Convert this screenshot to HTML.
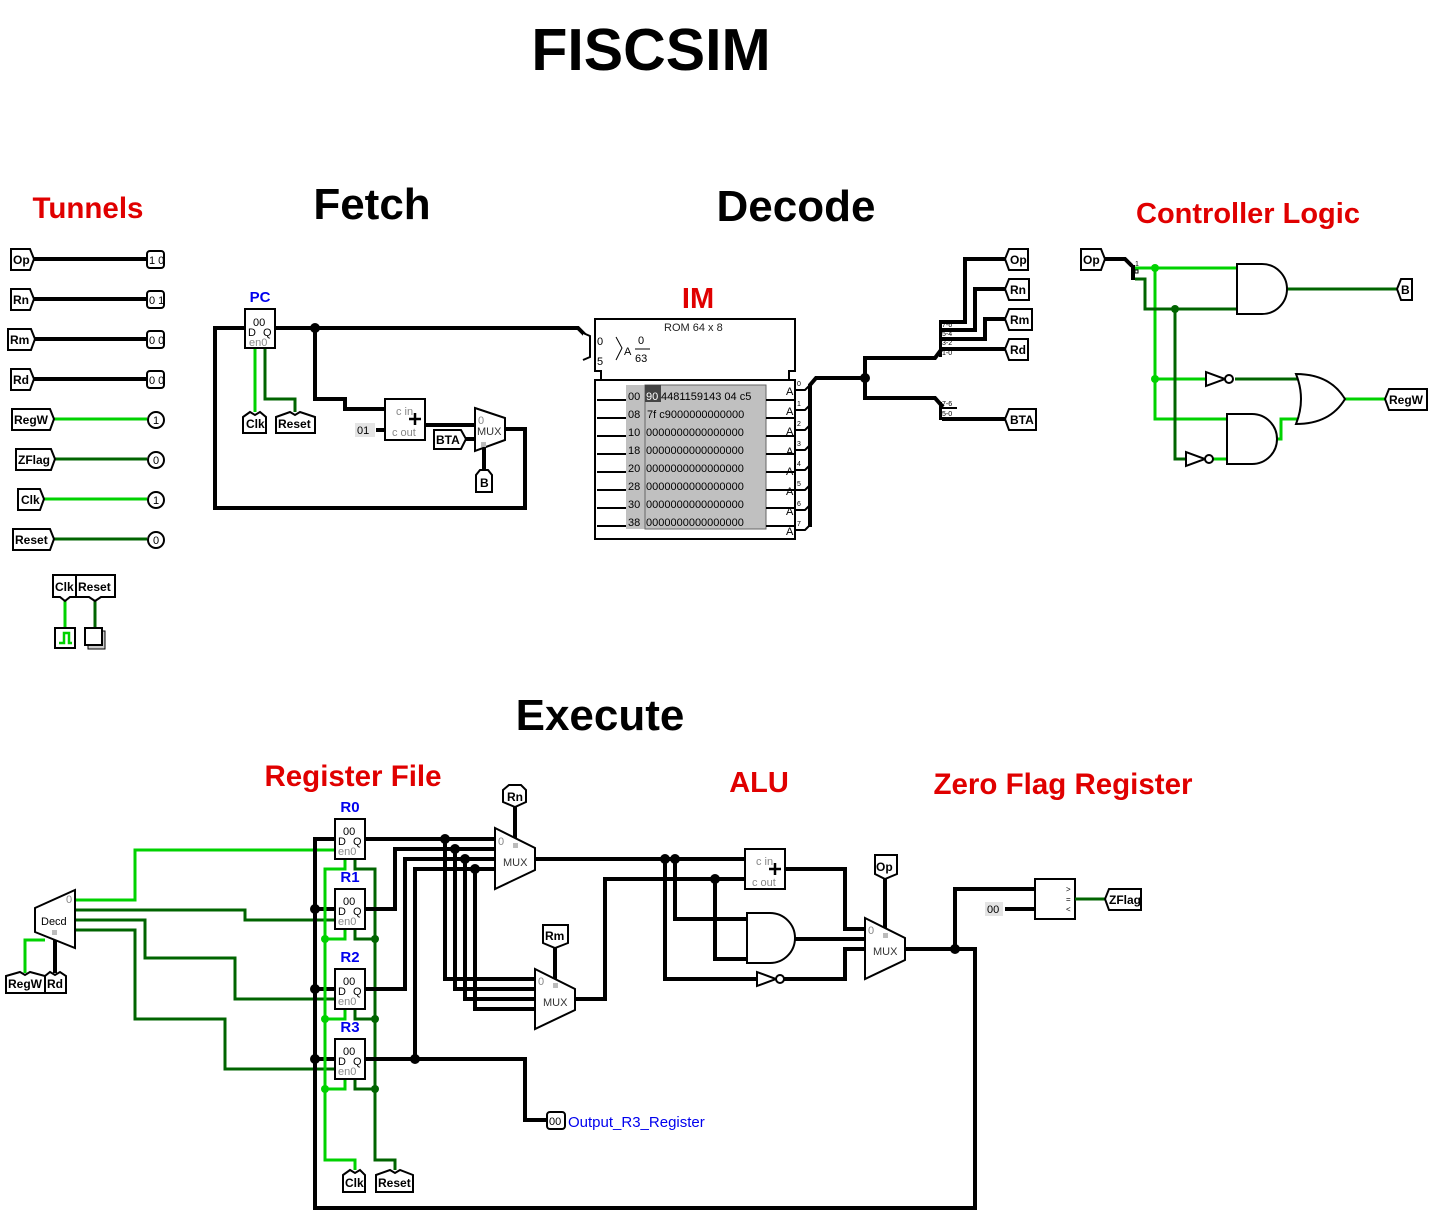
<!DOCTYPE html>
<html><head><meta charset="utf-8"><style>
html,body{margin:0;padding:0;background:#fff;width:1432px;height:1215px;overflow:hidden}
svg{display:block}
.t{font-family:"Liberation Sans",sans-serif;font-weight:bold}
.lb{font-family:"Liberation Sans",sans-serif;font-weight:bold;font-size:12px}
.sm{font-family:"Liberation Sans",sans-serif;font-size:11px}
.gr{font-family:"Liberation Sans",sans-serif;font-size:11px;fill:#888}
.bw{fill:none;stroke:#000;stroke-width:4;stroke-linejoin:miter}
.lg{fill:none;stroke:#00d200;stroke-width:3}
.dg{fill:none;stroke:#006400;stroke-width:3}
.box{fill:#fff;stroke:#000;stroke-width:2}
.g{fill:none;stroke:#000;stroke-width:2}
</style></head><body>
<svg width="1432" height="1215" viewBox="0 0 1432 1215" xmlns="http://www.w3.org/2000/svg">
<!-- Titles -->
<text class="t" x="651" y="70" font-size="59" text-anchor="middle">FISCSIM</text>
<text class="t" x="88" y="218" font-size="29.5" fill="#e00000" text-anchor="middle">Tunnels</text>
<text class="t" x="372" y="219" font-size="44" text-anchor="middle">Fetch</text>
<text class="t" x="796" y="221" font-size="44" text-anchor="middle">Decode</text>
<text class="t" x="1248" y="223" font-size="29" fill="#e00000" text-anchor="middle">Controller Logic</text>
<text class="t" x="698" y="308" font-size="29" fill="#e00000" text-anchor="middle">IM</text>
<text class="t" x="600" y="730" font-size="44" text-anchor="middle">Execute</text>
<text class="t" x="353" y="786" font-size="29.5" fill="#e00000" text-anchor="middle">Register File</text>
<text class="t" x="759" y="792" font-size="29" fill="#e00000" text-anchor="middle">ALU</text>
<text class="t" x="1063" y="794" font-size="29.5" fill="#e00000" text-anchor="middle">Zero Flag Register</text>

<!-- ===== Tunnels section ===== -->
<path class="bw" d="M33 259H147M33 299H147M33 339H147M33 379H147"/>
<path class="lg" d="M53 419H147M43 499H147"/>
<path class="dg" d="M53 459H147M53 539H147"/>
<polygon class="box" points="11,249 30,249 34,259 30,270 11,270"/><text class="lb" x="13" y="264">Op</text>
<polygon class="box" points="11,289 30,289 34,299 30,310 11,310"/><text class="lb" x="13" y="304">Rn</text>
<polygon class="box" points="8,329 31,329 35,339 31,350 8,350"/><text class="lb" x="10" y="344">Rm</text>
<polygon class="box" points="11,369 30,369 34,379 30,390 11,390"/><text class="lb" x="13" y="384">Rd</text>
<polygon class="box" points="12,409 50,409 54,419 50,430 12,430"/><text class="lb" x="14" y="424">RegW</text>
<polygon class="box" points="16,449 51,449 55,459 51,470 16,470"/><text class="lb" x="18" y="464">ZFlag</text>
<polygon class="box" points="18,489 40,489 44,499 40,510 18,510"/><text class="lb" x="21" y="504">Clk</text>
<polygon class="box" points="13,529 50,529 54,539 50,550 13,550"/><text class="lb" x="15" y="544">Reset</text>
<!-- probes -->
<rect class="box" x="147" y="251" width="17" height="17" rx="3"/><text class="sm" x="149" y="264">1 0</text>
<rect class="box" x="147" y="291" width="17" height="17" rx="3"/><text class="sm" x="149" y="304">0 1</text>
<rect class="box" x="147" y="331" width="17" height="17" rx="3"/><text class="sm" x="149" y="344">0 0</text>
<rect class="box" x="147" y="371" width="17" height="17" rx="3"/><text class="sm" x="149" y="384">0 0</text>
<circle class="box" cx="156" cy="420" r="8"/><text class="sm" x="153" y="424">1</text>
<circle class="box" cx="156" cy="460" r="8"/><text class="sm" x="153" y="464">0</text>
<circle class="box" cx="156" cy="500" r="8"/><text class="sm" x="153" y="504">1</text>
<circle class="box" cx="156" cy="540" r="8"/><text class="sm" x="153" y="544">0</text>
<!-- clock & button -->
<path class="lg" d="M65 597V630"/><path class="dg" d="M95 597V630"/>
<polygon class="box" points="53,575 76,575 76,597 70,597 65,601 60,597 53,597"/><text class="lb" x="55" y="591">Clk</text>
<polygon class="box" points="76,575 115,575 115,597 101,597 95,601 89,597 76,597"/><text class="lb" x="78" y="591">Reset</text>
<rect class="box" x="55" y="628" width="20" height="20"/><path d="M59 643H64V633H69V643H72" fill="none" stroke="#00d200" stroke-width="2.5"/>
<rect x="88" y="631" width="17" height="18" fill="#ccc" stroke="#000" stroke-width="1"/><rect class="box" x="85" y="628" width="17" height="17"/>

<!-- ===== Fetch ===== -->
<path class="bw" d="M275 328H578L585 335M245 328H215V508H525V429H505M315 328V399H345V409H385M425 425H475M466 439H475M376 430H385"/>
<path class="bw" d="M484 447V470"/>
<circle cx="315" cy="328" r="5"/>
<path class="lg" d="M255 348V412"/><path class="dg" d="M265 348V399H295V412"/>
<rect class="box" x="245" y="309" width="30" height="39"/>
<text class="sm" x="253" y="326">00</text><text class="sm" x="248" y="336">D</text><text class="sm" x="263" y="336">Q</text><text class="gr" x="249" y="346">en0</text>
<text class="t" x="260" y="302" font-size="15" fill="#0000ee" text-anchor="middle">PC</text>
<polygon class="box" points="243,417 250,412 255,415 260,412 266,417 266,433 243,433"/><text class="lb" x="246" y="428">Clk</text>
<polygon class="box" points="276,417 290,412 295,415 300,412 315,417 315,433 276,433"/><text class="lb" x="278" y="428">Reset</text>
<rect x="355" y="423" width="20" height="14" fill="#e4e4e4"/><text class="sm" x="357" y="434">01</text>
<rect class="box" x="385" y="399" width="40" height="41"/>
<text class="gr" x="396" y="415">c in</text><text class="gr" x="392" y="436">c out</text>
<path d="M409 419H421M415 413V425" stroke="#000" stroke-width="2.5"/>
<polygon class="box" points="475,408 505,418 505,440 475,451"/>
<text class="gr" x="478" y="424">0</text><text class="sm" x="477" y="435" fill="#333">MUX</text>
<rect x="481" y="442" width="5" height="5" fill="#bbb"/>
<polygon class="box" points="434,430 461,430 466,439 461,449 434,449"/><text class="lb" x="436" y="444">BTA</text>
<polygon class="box" points="476,475 480,470 488,470 492,475 492,492 476,492"/><text class="lb" x="480" y="487">B</text>

<!-- ===== ROM ===== -->
<path class="box" d="M595 319H795V371H789V380H795V539H595V380H601V371H595Z"/>
<path d="M583 333L590 336V357L583 360" fill="#fff" stroke="#000" stroke-width="2"/>
<path d="M590 340V352" stroke="#000" stroke-width="2" stroke-dasharray="2,2"/>
<text class="sm" x="664" y="331" fill="#222">ROM 64 x 8</text>
<text class="sm" x="597" y="345">0</text><text class="sm" x="597" y="365">5</text>
<path d="M616 337L622 348L616 360" fill="none" stroke="#000" stroke-width="1"/>
<text class="sm" x="624" y="355">A</text><text class="sm" x="638" y="344">0</text><path d="M635 349H650" stroke="#000"/><text class="sm" x="635" y="362">63</text>
<path d="M595 380H795" stroke="#000" stroke-width="2"/>
<rect x="626" y="385" width="140" height="144" fill="#c0c0c0"/>
<rect x="645" y="385" width="121" height="144" fill="none" stroke="#666" stroke-width="1"/>
<rect x="645" y="385" width="16" height="17" fill="#444"/>
<path d="M597 400H626M597 418H626M597 436H626M597 454H626M597 472H626M597 490H626M597 508H626M597 526H626" stroke="#000" stroke-width="2"/>
<path d="M766 400H795M766 418H795M766 436H795M766 454H795M766 472H795M766 490H795M766 508H795M766 526H795" stroke="#000" stroke-width="2"/>
<g class="sm" font-size="11">
<text x="628" y="400">00</text><text x="646" y="400" fill="#fff">90</text><text x="661" y="400">4481159143 04 c5</text>
<text x="628" y="418">08</text><text x="647" y="418">7f c9000000000000</text>
<text x="628" y="436">10</text><text x="646" y="436">0000000000000000</text>
<text x="628" y="454">18</text><text x="646" y="454">0000000000000000</text>
<text x="628" y="472">20</text><text x="646" y="472">0000000000000000</text>
<text x="628" y="490">28</text><text x="646" y="490">0000000000000000</text>
<text x="628" y="508">30</text><text x="646" y="508">0000000000000000</text>
<text x="628" y="526">38</text><text x="646" y="526">0000000000000000</text>
</g>
<g class="sm" font-size="10"><text x="786" y="395">A</text><text x="786" y="415">A</text><text x="786" y="435">A</text><text x="786" y="455">A</text><text x="786" y="475">A</text><text x="786" y="495">A</text><text x="786" y="515">A</text><text x="786" y="535">A</text></g>
<g font-family="Liberation Sans" font-size="7"><text x="797" y="386">0</text><text x="797" y="406">1</text><text x="797" y="426">2</text><text x="797" y="446">3</text><text x="797" y="466">4</text><text x="797" y="486">5</text><text x="797" y="506">6</text><text x="797" y="526">7</text></g>
<path d="M795 390H805L810 385M795 410H805L810 405M795 430H805L810 425M795 450H805L810 445M795 470H805L810 465M795 490H805L810 485M795 510H805L810 505M795 530H805L810 525" fill="none" stroke="#000" stroke-width="2"/>
<path class="bw" d="M810 527V385L816 378H865V358H935L941 350M865 378V398H935L943 407"/>
<circle cx="865" cy="378" r="5"/>
<rect x="939" y="320" width="3" height="37"/>
<path class="bw" d="M941 322H965V259H1005M941 330H975V289H1005M941 339H985V319H1005M941 349H1005" stroke-width="3.5"/>
<g font-family="Liberation Sans" font-size="7"><text x="942" y="327">7-6</text><text x="942" y="336">5-4</text><text x="942" y="345">3-2</text><text x="942" y="355">1-0</text><text x="942" y="406">7-6</text><text x="942" y="416">5-0</text></g>
<rect x="939" y="402" width="3" height="18"/>
<path d="M942 408H957" stroke="#000" stroke-width="2"/>
<path class="bw" d="M942 419H1005"/>
<polygon class="box" points="1009,249 1028,249 1028,270 1009,270 1005,259"/><text class="lb" x="1010" y="264">Op</text>
<polygon class="box" points="1009,279 1029,279 1029,300 1009,300 1005,289"/><text class="lb" x="1010" y="294">Rn</text>
<polygon class="box" points="1009,309 1032,309 1032,330 1009,330 1005,319"/><text class="lb" x="1010" y="324">Rm</text>
<polygon class="box" points="1009,339 1028,339 1028,360 1009,360 1005,349"/><text class="lb" x="1010" y="354">Rd</text>
<polygon class="box" points="1009,409 1036,409 1036,430 1009,430 1005,419"/><text class="lb" x="1010" y="424">BTA</text>

<!-- ===== Controller ===== -->
<path class="bw" d="M1105 259H1125L1132 266" stroke-width="5"/>
<rect x="1131" y="265" width="4" height="15"/>
<text font-family="Liberation Sans" font-size="7" x="1135" y="266">1</text><rect x="1135" y="270" width="3" height="3" fill="#fff" stroke="#000" stroke-width="1"/>
<path class="lg" d="M1135 268H1237M1155 268V419H1227M1155 379H1206M1212 459H1227M1345 399H1387M1275 439H1281V419H1299"/>
<path class="dg" d="M1135 279H1145V309H1237M1175 309V459H1186M1235 379H1299M1285 289H1399"/>
<circle cx="1155" cy="268" r="4" fill="#00d200"/><circle cx="1175" cy="309" r="4" fill="#006400"/><circle cx="1155" cy="379" r="4" fill="#00d200"/>
<path class="box" d="M1237 264H1262A25 25 0 0 1 1262 314H1237Z"/>
<path class="box" d="M1227 414H1252A25 25 0 0 1 1252 464H1227Z"/>
<path class="box" d="M1296 374Q1330 374 1345 399Q1330 424 1296 424Q1306 399 1296 374Z"/>
<polygon class="box" points="1206,372 1206,386 1225,379" stroke-width="1.5"/><circle class="box" cx="1229" cy="379" r="4" stroke-width="1.5"/>
<polygon class="box" points="1186,452 1186,466 1205,459" stroke-width="1.5"/><circle class="box" cx="1209" cy="459" r="4" stroke-width="1.5"/>
<polygon class="box" points="1081,249 1101,249 1105,259 1101,270 1081,270"/><text class="lb" x="1083" y="264">Op</text>
<polygon class="box" points="1401,279 1412,279 1412,300 1401,300 1397,289"/><text class="lb" x="1401" y="294">B</text>
<polygon class="box" points="1389,389 1427,389 1427,410 1389,410 1385,399"/><text class="lb" x="1389" y="404">RegW</text>

<!-- ===== Execute: Register file ===== -->
<path class="lg" d="M75 900H135V850H337M25 973V940H45"/>
<path class="dg" d="M75 910H245V920H337M75 920H145V958H235V999H337M75 930H135V1019H225V1069H337"/>
<path class="bw" d="M55 940V973"/>
<polygon class="box" points="35,908 75,890 75,948 35,932"/>
<text class="sm" x="41" y="925">Decd</text><text class="gr" x="66" y="903">0</text>
<rect x="52" y="930" width="5" height="5" fill="#bbb"/>
<polygon class="box" points="6,976 20,972 25,975 30,972 45,976 45,993 6,993"/><text class="lb" x="8" y="988">RegW</text>
<polygon class="box" points="45,976 50,972 55,975 60,972 66,976 66,993 45,993"/><text class="lb" x="47" y="988">Rd</text>
<path class="bw" d="M335 839H315V1208H975V949H905M315 909H335M315 989H335M315 1059H335"/>
<circle cx="315" cy="909" r="5"/><circle cx="315" cy="989" r="5"/><circle cx="315" cy="1059" r="5"/>
<path class="lg" d="M345 859V869H325V1160H355V1170M345 929V939H325M345 1009V1019H325M345 1079V1089H325"/>
<path class="dg" d="M355 859V869H375V1160H395V1170M355 929V939H375M355 1009V1019H375M355 1079V1089H375"/>
<g fill="#00d200"><circle cx="325" cy="939" r="4"/><circle cx="325" cy="1019" r="4"/><circle cx="325" cy="1089" r="4"/></g>
<g fill="#006400"><circle cx="375" cy="939" r="4"/><circle cx="375" cy="1019" r="4"/><circle cx="375" cy="1089" r="4"/></g>
<path class="bw" d="M365 839H495M365 909H395V849H495M365 989H405V859H495M365 1059H415V869H495M415 1059H525V1120H547M445 839V979H535M455 849V989H535M465 859V999H535M475 869V1009H535"/>
<g><circle cx="445" cy="839" r="5"/><circle cx="455" cy="849" r="5"/><circle cx="465" cy="859" r="5"/><circle cx="475" cy="869" r="5"/><circle cx="415" cy="1059" r="5"/></g>
<g>
<rect class="box" x="335" y="819" width="30" height="40"/><text class="sm" x="343" y="835">00</text><text class="sm" x="338" y="845">D</text><text class="sm" x="353" y="845">Q</text><text class="gr" x="338" y="855">en0</text>
<rect class="box" x="335" y="889" width="30" height="40"/><text class="sm" x="343" y="905">00</text><text class="sm" x="338" y="915">D</text><text class="sm" x="353" y="915">Q</text><text class="gr" x="338" y="925">en0</text>
<rect class="box" x="335" y="969" width="30" height="40"/><text class="sm" x="343" y="985">00</text><text class="sm" x="338" y="995">D</text><text class="sm" x="353" y="995">Q</text><text class="gr" x="338" y="1005">en0</text>
<rect class="box" x="335" y="1039" width="30" height="40"/><text class="sm" x="343" y="1055">00</text><text class="sm" x="338" y="1065">D</text><text class="sm" x="353" y="1065">Q</text><text class="gr" x="338" y="1075">en0</text>
</g>
<g class="t" font-size="15" fill="#0000ee" text-anchor="middle"><text x="350" y="812">R0</text><text x="350" y="882">R1</text><text x="350" y="962">R2</text><text x="350" y="1032">R3</text></g>
<polygon class="box" points="343,1175 350,1170 355,1173 360,1170 365,1175 365,1192 343,1192"/><text class="lb" x="345" y="1187">Clk</text>
<polygon class="box" points="376,1175 390,1170 395,1173 400,1170 413,1175 413,1192 376,1192"/><text class="lb" x="378" y="1187">Reset</text>
<rect class="box" x="547" y="1112" width="18" height="17" rx="3"/><text class="sm" x="549" y="1125">00</text>
<text font-family="Liberation Sans" font-size="15" fill="#0000ee" x="568" y="1127">Output_R3_Register</text>

<path class="bw" d="M515 807V840M555 947V980M535 859H745M575 999H605V879H745M675 859V919H747M665 859V979H757M715 879V959H747M785 869H845V929H865M795 939H865M783 979H845V949H865M885 879V929M955 949V889H1035M1005 909H1035"/>
<g><circle cx="665" cy="859" r="5"/><circle cx="675" cy="859" r="5"/><circle cx="715" cy="879" r="5"/><circle cx="955" cy="949" r="5"/></g>
<polygon class="box" points="495,828 535,848 535,870 495,889"/><text class="gr" x="498" y="845">0</text><text class="sm" x="503" y="866" fill="#333">MUX</text><rect x="513" y="843" width="5" height="5" fill="#bbb"/>
<polygon class="box" points="535,969 575,989 575,1010 535,1029"/><text class="gr" x="538" y="985">0</text><text class="sm" x="543" y="1006" fill="#333">MUX</text><rect x="553" y="983" width="5" height="5" fill="#bbb"/>
<polygon class="box" points="503,790 509,785 521,785 526,790 526,802 515,807 503,802" /><text class="lb" x="507" y="801">Rn</text>
<polygon class="box" points="543,925 568,925 568,943 555,948 543,943"/><text class="lb" x="545" y="940">Rm</text>
<rect class="box" x="745" y="849" width="40" height="40"/>
<text class="gr" x="756" y="865">c in</text><text class="gr" x="752" y="886">c out</text>
<path d="M769 869H781M775 863V875" stroke="#000" stroke-width="2.5"/>
<path class="box" d="M747 913H770A25 25 0 0 1 770 963H747Z"/>
<polygon class="box" points="757,972 757,986 776,979" stroke-width="1.5"/><circle class="box" cx="780" cy="979" r="4" stroke-width="1.5"/>
<polygon class="box" points="865,918 905,938 905,960 865,979"/><text class="gr" x="868" y="934">0</text><text class="sm" x="873" y="955" fill="#333">MUX</text><rect x="883" y="933" width="5" height="5" fill="#bbb"/>
<polygon class="box" points="875,855 897,855 897,874 885,879 875,874"/><text class="lb" x="876" y="871">Op</text>
<rect x="985" y="902" width="18" height="14" fill="#e4e4e4"/><text class="sm" x="987" y="913">00</text>
<rect class="box" x="1035" y="879" width="40" height="40"/>
<g font-family="Liberation Sans" font-size="8"><text x="1066" y="892">&gt;</text><text x="1066" y="902">=</text><text x="1066" y="912">&lt;</text></g>
<path class="dg" d="M1075 899H1107"/>
<polygon class="box" points="1109,889 1141,889 1141,910 1109,910 1105,899"/><text class="lb" x="1109" y="904">ZFlag</text>
</svg>
</body></html>
